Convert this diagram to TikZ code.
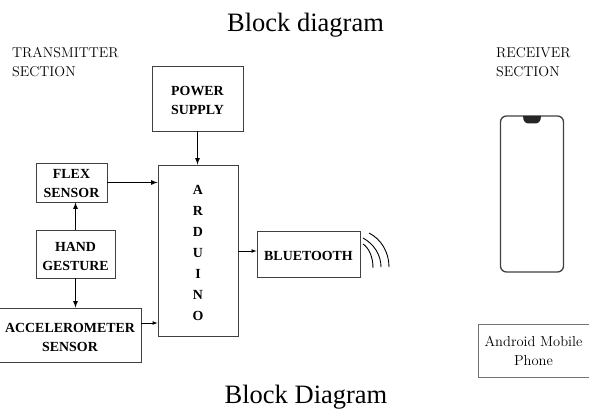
\documentclass[tikz,border=0pt]{standalone}
\usepackage{fontspec}
\newfontfamily\timesfont{Liberation Serif}
\usepackage{tikz}
\usetikzlibrary{arrows, positioning, calc}

\newcommand{\topgap}[1][13.5pt]{\rule{0pt}{#1}}

\tikzset{
  blockbox/.style={draw=black!75,line width=0.9pt,align=center,inner sep=0pt,font=\timesfont\bfseries\fontsize{13.9}{19}\selectfont},
  sectionlabel/.style={align=left,inner sep=0pt,font=\fontsize{14.2}{19}\selectfont},
  titlelabel/.style={inner sep=0pt,font=\timesfont\fontsize{26.5}{28}\selectfont},
  linkline/.style={-latex,line width=1.2pt}
}

\begin{document}
\begin{tikzpicture}[x=1pt,y=1pt]
  \useasboundingbox (0,0) rectangle (589,410);

  % Titles
  \node[titlelabel] (title) at (305.5,385) {Block diagram};
  \node[titlelabel] (caption) at (306,13) {Block Diagram};

  % Section labels
  \node[sectionlabel,anchor=north west] (txlabel) at (12,363) {TRANSMITTER\\SECTION};
  \node[sectionlabel,anchor=north west] (rxlabel) at (496,363) {RECEIVER\\SECTION};

  % Blocks
  \node[blockbox,minimum width=91pt,minimum height=65pt] (power) at (197.5,311.5) {\topgap POWER\\SUPPLY};
  \node[blockbox,minimum width=71pt,minimum height=39pt] (flex) at (71.5,227.5) {\topgap[11pt]FLEX\\SENSOR};
  \node[blockbox,minimum width=79pt,minimum height=48pt] (hand) at (75.5,156) {\topgap HAND\\GESTURE};
  \node[blockbox,minimum width=142pt,minimum height=54pt] (accel) at (70,75) {\topgap ACCELEROMETER\\SENSOR};
  \node[blockbox,minimum width=80pt,minimum height=171pt,font=\timesfont\bfseries\fontsize{13.9}{21}\selectfont] (arduino) at (198,159.5) {\topgap[15pt]A\\R\\D\\U\\I\\N\\O};
  \node[blockbox,minimum width=103pt,minimum height=46pt,text height=13pt] (bluetooth) at (308.5,156) {BLUETOOTH};

  % Receiver
  \node[draw=black!75,line width=1.3pt,rounded corners=6pt,minimum width=63pt,minimum height=156pt,inner sep=0pt] (phone) at (532,216) {};
  \fill[black!85] (523,294) -- (541,294) .. controls (541,288) and (538,286.5) .. (535,286.5) -- (529,286.5) .. controls (526,286.5) and (523,288) .. (523,294) -- cycle;
  \node[draw=black!55,line width=0.7pt,align=center,inner sep=0pt,minimum width=111pt,minimum height=53pt,font=\fontsize{14.5}{19}\selectfont] (android) at (533.5,59.5) {Android Mobile\\Phone};

  % Connectors
  \draw[linkline] (power.south) -- (power.south |- arduino.north);
  \draw[linkline] (flex.east) -- (flex.east -| arduino.west);
  \draw[linkline] (hand.north) -- (hand.north |- flex.south);
  \draw[linkline] (hand.south) -- (hand.south |- accel.north);
  \draw[linkline,line width=0.7pt] ($(accel.east)+(0,12)$) -- ($(accel.east -| arduino.west)+(0,12)$);
  \draw[linkline,line width=0.7pt] ($(arduino.east)+(0,-0.5)$) -- ($(arduino.east -| bluetooth.west)+(0,-0.5)$);

  % Signal waves
  \draw[line width=0.9pt] (363,166) .. controls (369,162) and (373,153) .. (373,142);
  \draw[line width=0.9pt] (363,172) .. controls (374,166) and (381,155) .. (381,143);
  \draw[line width=0.9pt] (369,177) .. controls (381,171) and (389,158) .. (389,143);
\end{tikzpicture}
\end{document}
